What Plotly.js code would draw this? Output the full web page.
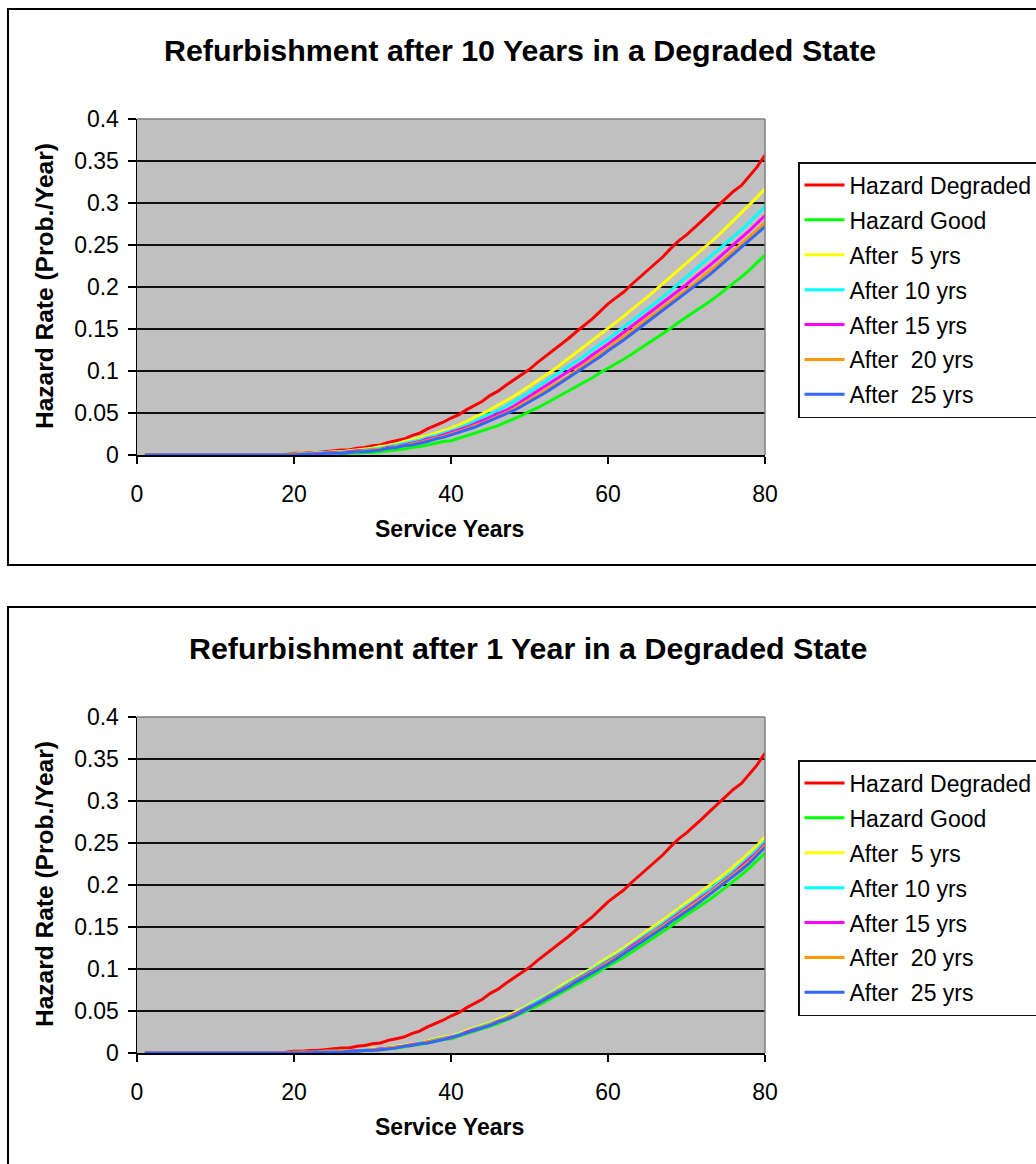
<!DOCTYPE html>
<html>
<head>
<meta charset="utf-8">
<script src="https://cdn.plot.ly/plotly-3.0.1.min.js"></script>
<style>
  html, body { margin: 0; padding: 0; background: #ffffff; overflow: hidden; }
  #chart { width: 1080px; height: 1164px; }
</style>
</head>
<body>
<div id="chart"></div>
<script>
// Service years on the horizontal axis
const years = [1,2,3,4,5,6,7,8,9,10,11,12,13,14,15,16,17,18,19,20,
  21,22,23,24,25,26,27,28,29,30,31,32,33,34,35,36,37,38,39,40,
  41,42,43,44,45,46,47,48,49,50,51,52,53,54,55,56,57,58,59,60,
  61,62,63,64,65,66,67,68,69,70,71,72,73,74,75,76,77,78,79,80];

// Hazard rates (probability per year) for the two reference states
const hazardDegraded = [0,0,0,0,0,0,0,0,0,0,0,0,0,0,0,0,0,0,0.001,0.002,
  0.002,0.003,0.003,0.004,0.005,0.006,0.006,0.008,0.009,0.011,0.012,0.015,0.017,0.019,0.023,0.026,0.031,0.035,0.039,0.044,
  0.048,0.054,0.059,0.064,0.071,0.076,0.083,0.089,0.095,0.102,0.110,0.117,0.124,0.132,0.139,0.147,0.154,0.162,0.171,0.180,
  0.187,0.194,0.203,0.211,0.219,0.228,0.236,0.246,0.255,0.262,0.270,0.279,0.288,0.297,0.305,0.314,0.321,0.332,0.343,0.357];

const hazardGood = [0,0,0,0,0,0,0,0,0,0,0,0,0,0,0,0,0,0,0,0,
  0,0,0.001,0.001,0.001,0.001,0.002,0.002,0.003,0.003,0.004,0.005,0.006,0.007,0.009,0.010,0.012,0.014,0.016,0.017,
  0.020,0.023,0.026,0.029,0.032,0.035,0.039,0.043,0.047,0.052,0.056,0.061,0.066,0.072,0.077,0.082,0.087,0.092,0.098,0.103,
  0.108,0.114,0.120,0.126,0.133,0.139,0.145,0.151,0.158,0.164,0.170,0.177,0.183,0.190,0.197,0.205,0.212,0.220,0.229,0.238];

// Refurbishment after 10 years in the degraded state
const tenAfter5 = [0,0,0,0,0,0,0,0,0,0,0,0,0,0,0,0,0,0,0.001,0.001,
  0.002,0.002,0.003,0.003,0.004,0.004,0.005,0.006,0.007,0.008,0.010,0.011,0.013,0.016,0.018,0.021,0.023,0.026,0.029,0.032,
  0.036,0.040,0.045,0.049,0.054,0.059,0.064,0.070,0.076,0.082,0.088,0.095,0.101,0.108,0.115,0.122,0.129,0.136,0.143,0.150,
  0.158,0.165,0.173,0.180,0.188,0.196,0.204,0.212,0.220,0.228,0.236,0.244,0.253,0.261,0.270,0.279,0.288,0.297,0.307,0.317];
const tenAfter10 = [0,0,0,0,0,0,0,0,0,0,0,0,0,0,0,0,0,0,0.001,0.001,
  0.001,0.002,0.002,0.003,0.003,0.004,0.004,0.005,0.006,0.007,0.008,0.010,0.012,0.014,0.016,0.018,0.021,0.023,0.026,0.029,
  0.032,0.036,0.040,0.045,0.049,0.053,0.058,0.063,0.069,0.075,0.081,0.087,0.093,0.099,0.105,0.111,0.118,0.125,0.131,0.138,
  0.145,0.152,0.159,0.166,0.173,0.181,0.188,0.196,0.204,0.212,0.219,0.227,0.235,0.243,0.251,0.259,0.268,0.277,0.286,0.296];
const tenAfter15 = [0,0,0,0,0,0,0,0,0,0,0,0,0,0,0,0,0,0,0,0.001,
  0.001,0.001,0.002,0.002,0.003,0.003,0.004,0.005,0.005,0.006,0.007,0.009,0.010,0.012,0.014,0.016,0.019,0.021,0.024,0.027,
  0.030,0.033,0.037,0.041,0.045,0.049,0.053,0.058,0.064,0.070,0.075,0.081,0.087,0.093,0.099,0.106,0.112,0.119,0.125,0.132,
  0.139,0.146,0.153,0.160,0.167,0.174,0.181,0.188,0.196,0.203,0.211,0.218,0.226,0.234,0.242,0.250,0.258,0.267,0.276,0.285];
const tenAfter20 = [0,0,0,0,0,0,0,0,0,0,0,0,0,0,0,0,0,0,0,0.001,
  0.001,0.001,0.001,0.002,0.002,0.003,0.003,0.004,0.005,0.006,0.007,0.008,0.010,0.011,0.013,0.015,0.017,0.020,0.022,0.025,
  0.028,0.031,0.035,0.038,0.042,0.046,0.050,0.055,0.060,0.066,0.071,0.077,0.082,0.088,0.094,0.101,0.107,0.114,0.120,0.127,
  0.134,0.140,0.147,0.154,0.161,0.168,0.175,0.182,0.189,0.197,0.204,0.212,0.219,0.227,0.235,0.243,0.251,0.259,0.268,0.277];
const tenAfter25 = [0,0,0,0,0,0,0,0,0,0,0,0,0,0,0,0,0,0,0,0,
  0.001,0.001,0.001,0.002,0.002,0.002,0.003,0.004,0.004,0.005,0.006,0.008,0.009,0.011,0.012,0.014,0.016,0.019,0.021,0.024,
  0.027,0.030,0.033,0.037,0.041,0.045,0.049,0.053,0.058,0.063,0.069,0.074,0.080,0.086,0.092,0.098,0.104,0.111,0.117,0.124,
  0.130,0.137,0.144,0.151,0.158,0.165,0.172,0.179,0.186,0.193,0.200,0.208,0.215,0.223,0.231,0.239,0.247,0.255,0.263,0.272];

// Refurbishment after 1 year in the degraded state
const oneAfter5 = [0,0,0,0,0,0,0,0,0,0,0,0,0,0,0,0,0,0,0,0.001,
  0.001,0.001,0.001,0.002,0.002,0.002,0.003,0.003,0.004,0.005,0.005,0.007,0.008,0.009,0.011,0.012,0.014,0.017,0.019,0.020,
  0.023,0.027,0.030,0.033,0.036,0.040,0.044,0.048,0.053,0.058,0.063,0.068,0.073,0.080,0.085,0.091,0.096,0.101,0.108,0.113,
  0.119,0.125,0.132,0.138,0.145,0.152,0.158,0.165,0.172,0.179,0.185,0.193,0.199,0.207,0.214,0.222,0.230,0.238,0.247,0.257];
const oneAfter10 = [0,0,0,0,0,0,0,0,0,0,0,0,0,0,0,0,0,0,0,0,
  0.001,0.001,0.001,0.001,0.002,0.002,0.002,0.003,0.004,0.004,0.005,0.006,0.007,0.008,0.010,0.012,0.013,0.016,0.018,0.019,
  0.022,0.025,0.029,0.032,0.035,0.038,0.042,0.046,0.051,0.056,0.061,0.066,0.071,0.077,0.083,0.088,0.094,0.099,0.105,0.110,
  0.116,0.122,0.129,0.135,0.142,0.148,0.155,0.161,0.168,0.175,0.181,0.189,0.195,0.202,0.209,0.217,0.225,0.233,0.242,0.252];
const oneAfter15 = [0,0,0,0,0,0,0,0,0,0,0,0,0,0,0,0,0,0,0,0,
  0,0.001,0.001,0.001,0.001,0.002,0.002,0.003,0.003,0.004,0.005,0.006,0.007,0.008,0.010,0.011,0.013,0.015,0.017,0.019,
  0.021,0.025,0.028,0.031,0.034,0.038,0.041,0.046,0.050,0.055,0.059,0.065,0.070,0.076,0.081,0.087,0.092,0.097,0.103,0.109,
  0.114,0.120,0.127,0.133,0.140,0.146,0.152,0.159,0.166,0.172,0.179,0.186,0.192,0.200,0.207,0.214,0.222,0.230,0.239,0.249];
const oneAfter20 = [0,0,0,0,0,0,0,0,0,0,0,0,0,0,0,0,0,0,0,0,
  0,0,0.001,0.001,0.001,0.002,0.002,0.002,0.003,0.004,0.004,0.006,0.007,0.008,0.009,0.011,0.013,0.015,0.017,0.018,
  0.021,0.024,0.027,0.031,0.034,0.037,0.041,0.045,0.049,0.054,0.059,0.064,0.069,0.075,0.080,0.086,0.091,0.096,0.102,0.108,
  0.113,0.119,0.125,0.132,0.138,0.145,0.151,0.157,0.164,0.171,0.177,0.184,0.191,0.198,0.205,0.213,0.220,0.228,0.237,0.247];
const oneAfter25 = [0,0,0,0,0,0,0,0,0,0,0,0,0,0,0,0,0,0,0,0,
  0,0,0.001,0.001,0.001,0.001,0.002,0.002,0.003,0.003,0.004,0.005,0.006,0.008,0.009,0.011,0.012,0.014,0.016,0.018,
  0.021,0.024,0.027,0.030,0.033,0.037,0.040,0.044,0.049,0.053,0.058,0.063,0.068,0.074,0.079,0.085,0.090,0.095,0.101,0.106,
  0.112,0.118,0.124,0.130,0.137,0.143,0.149,0.156,0.162,0.169,0.175,0.182,0.189,0.196,0.203,0.211,0.218,0.226,0.235,0.245];

// Series names, colours and axis ticks
const seriesNames = ['Hazard Degraded', 'Hazard Good', 'After  5 yrs', 'After 10 yrs',
  'After 15 yrs', 'After  20 yrs', 'After  25 yrs'];
const seriesColors = ['#FF0000', '#00FF00', '#FFFF00', '#00FFFF', '#FF00FF', '#FF9900', '#3366FF'];
const xTicks = [0, 20, 40, 60, 80];
const yTicks = [0, 0.05, 0.1, 0.15, 0.2, 0.25, 0.3, 0.35, 0.4];
const yTickText = ['0', '0.05', '0.1', '0.15', '0.2', '0.25', '0.3', '0.35', '0.4'];
const chartTitles = ['Refurbishment after 10 Years in a Degraded State',
  'Refurbishment after 1 Year in a Degraded State'];
const xTitle = 'Service Years';
const yTitle = 'Hazard Rate (Prob./Year)';

const panels = [
  [hazardDegraded, hazardGood, tenAfter5, tenAfter10, tenAfter15, tenAfter20, tenAfter25],
  [hazardDegraded, hazardGood, oneAfter5, oneAfter10, oneAfter15, oneAfter20, oneAfter25]
];

// Page geometry in pixels, converted to paper fractions.
// The drawing is a little wider than the window, so the frames and
// legends run off the right-hand edge.
const W = 1080, H = 1164;
const fx = v => v / W;
const fy = v => 1 - v / H;
const STEP = 598;          // vertical offset between the two chart boxes
const FONT = 'Liberation Sans, Arial, Helvetica, sans-serif';

const traces = [];
panels.forEach((series, p) => {
  const sfx = p === 0 ? '' : '2';
  series.forEach((vals, i) => {
    traces.push({
      type: 'scatter', mode: 'lines',
      x: years, y: vals,
      name: seriesNames[i],
      xaxis: 'x' + sfx, yaxis: 'y' + sfx,
      legend: 'legend' + sfx,
      legendgroup: 'p' + p + 's' + i,
      line: { color: seriesColors[i], width: 3 },
      hoverinfo: 'x+y+name'
    });
  });
});

function xAxis() {
  return {
    domain: [fx(137), fx(765)], range: [0, 80],
    tickmode: 'array', tickvals: xTicks,
    ticks: 'outside', ticklen: 7, tickwidth: 1.5, tickcolor: '#000',
    showline: true, linecolor: '#000', linewidth: 1.5,
    showgrid: false, zeroline: false,
    tickfont: { family: FONT, size: 23, color: '#000' },
    ticklabelstandoff: 11,
    fixedrange: true
  };
}
function yAxis(top, anchor) {
  return {
    domain: [fy(top + 336), fy(top)], range: [0, 0.4], anchor: anchor,
    tickmode: 'array', tickvals: yTicks, ticktext: yTickText,
    ticks: 'outside', ticklen: 8, tickwidth: 1.5, tickcolor: '#000',
    showline: true, linecolor: '#000', linewidth: 1.5,
    showgrid: true, gridcolor: '#111', gridwidth: 1.5, zeroline: false,
    tickfont: { family: FONT, size: 23, color: '#000' },
    ticklabelstandoff: 4,
    fixedrange: true
  };
}

const titleCenters = [520, 528];
const shapes = [];
const annotations = [];
[0, 1].forEach(p => {
  const dy = p * STEP;
  const sfx = p === 0 ? '' : '2';
  // outer chart frame
  shapes.push({ type: 'rect', xref: 'paper', yref: 'paper',
    x0: fx(8), x1: fx(1075), y0: fy(p === 0 ? 565 : 1175), y1: fy(9 + dy),
    line: { color: '#000', width: 2 }, fillcolor: 'rgba(0,0,0,0)', layer: 'below' });
  // grey top and right edges of the plot area
  shapes.push({ type: 'line', xref: 'x' + sfx + ' domain', yref: 'y' + sfx + ' domain',
    x0: 0, x1: 1, y0: 1, y1: 1, line: { color: '#808080', width: 1.5 }, layer: 'above' });
  shapes.push({ type: 'line', xref: 'x' + sfx + ' domain', yref: 'y' + sfx + ' domain',
    x0: 1, x1: 1, y0: 0, y1: 1, line: { color: '#808080', width: 1.5 }, layer: 'above' });

  annotations.push({ xref: 'paper', yref: 'paper', x: fx(titleCenters[p]), y: fy(50 + dy),
    xanchor: 'center', yanchor: 'middle', showarrow: false,
    text: '<b>' + chartTitles[p] + '</b>', font: { family: FONT, size: 30.4, color: '#000' } });
  annotations.push({ xref: 'paper', yref: 'paper', x: fx(449), y: fy(529 + dy),
    xanchor: 'center', yanchor: 'middle', showarrow: false,
    text: '<b>' + xTitle + '</b>', font: { family: FONT, size: 23, color: '#000' } });
  annotations.push({ xref: 'paper', yref: 'paper', x: fx(44), y: fy(286 + dy),
    xanchor: 'center', yanchor: 'middle', showarrow: false, textangle: -90,
    text: '<b>' + yTitle + '</b>', font: { family: FONT, size: 24.5, color: '#000' } });
});

function legendCfg(top) {
  return {
    x: fx(798), y: fy(top), xanchor: 'left', yanchor: 'top',
    bgcolor: '#ffffff', bordercolor: '#111', borderwidth: 1.5,
    font: { family: FONT, size: 23, color: '#000' },
    tracegroupgap: 2, traceorder: 'grouped', itemwidth: 40
  };
}

const layout = {
  width: W, height: H,
  margin: { l: 0, r: 0, t: 0, b: 0, pad: 0 },
  paper_bgcolor: '#ffffff', plot_bgcolor: '#C0C0C0',
  font: { family: FONT, color: '#000' },
  showlegend: true,
  xaxis: xAxis(), yaxis: yAxis(119, 'x'),
  xaxis2: Object.assign(xAxis(), { anchor: 'y2' }),
  yaxis2: yAxis(119 + STEP, 'x2'),
  legend: legendCfg(162),
  legend2: legendCfg(162 + STEP),
  shapes: shapes,
  annotations: annotations
};

Plotly.newPlot('chart', traces, layout, { displayModeBar: false, staticPlot: true });
</script>
</body>
</html>
